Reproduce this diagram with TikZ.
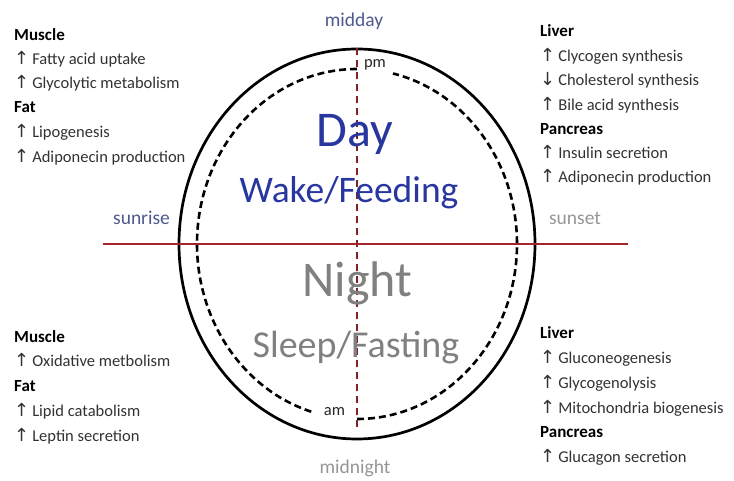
\documentclass[tikz,border=0pt]{standalone}
\usepackage{fontspec}
\setmainfont{Carlito}
\newfontfamily\arrowfont{DejaVu Sans}
\definecolor{dayblue}{RGB}{40,55,160}
\definecolor{skyblue}{RGB}{78,88,140}
\definecolor{nightgray}{RGB}{128,128,128}
\definecolor{lightgray2}{RGB}{150,150,150}
\definecolor{horizonred}{RGB}{165,35,42}
\definecolor{axisred}{RGB}{125,35,35}
\definecolor{bodytext}{RGB}{50,50,50}
\newcommand\uparr{{\arrowfont\fontsize{18}{18}\selectfont ↑}\hspace{3pt}}
\newcommand\dnarr{{\arrowfont\fontsize{18}{18}\selectfont ↓}\hspace{3pt}}
\tikzset{
  body/.style={anchor=base west, inner sep=0pt, font=\fontsize{16.5}{20}\selectfont, text=bodytext},
  head/.style={anchor=base west, inner sep=0pt, font=\fontsize{17}{20}\selectfont\bfseries, text=black},
  big/.style={anchor=base, inner sep=0pt},
  tick/.style={anchor=base, inner sep=0pt, font=\fontsize{19.5}{22}\selectfont},
  outerring/.style={line width=2.7pt, black},
  innerring/.style={line width=2.6pt, black, dash pattern=on 7pt off 4pt},
  axis/.style={line width=1.6pt, axisred, dash pattern=on 7pt off 5pt},
  horizon/.style={line width=2.7pt, horizonred}
}
\begin{document}
\begin{tikzpicture}[x=1pt,y=1pt]
\useasboundingbox (0,0) rectangle (734,481);
\coordinate (c) at (357,237);
\coordinate (hl) at (103,237);
\coordinate (hr) at (628,237);
\coordinate (vt) at (357,433);
\coordinate (vb) at (357,53);
% rings
\draw[outerring] (c) ellipse [x radius=178, y radius=195];
\draw[innerring] (c) ++(90:160 and 175) arc [start angle=90, end angle=253.7, x radius=160, y radius=175];
\draw[innerring] (c) ++(270:160 and 175) arc [start angle=270, end angle=437, x radius=160, y radius=175];
% axes
\draw[axis] (vt) -- (vb);
\draw[horizon] (hl) -- (hr);
% ring labels
\node[tick, text=black!85, font=\fontsize{16.5}{20}\selectfont] (pm) at (375,413) {pm};
\node[tick, text=black!85, font=\fontsize{16.5}{20}\selectfont] (am) at (334.5,65) {am};
\node[tick, text=skyblue] (midday) at (354,454) {midday};
\node[tick, text=lightgray2] (midnight) at (355,7) {midnight};
\node[tick, text=skyblue] (sunrise) at (141.5,256) {sunrise};
\node[tick, text=lightgray2] (sunset) at (575,256) {sunset};
% big labels
\node[big, text=dayblue, font=\fontsize{50}{56}\selectfont] (day) at (355,334) {Day};
\node[big, text=dayblue, font=\fontsize{37.5}{42}\selectfont] (wake) at (349,278) {Wake/Feeding};
\node[big, text=nightgray, font=\fontsize{50}{56}\selectfont] (night) at (357.5,184) {Night};
\node[big, text=nightgray, font=\fontsize{38}{42}\selectfont] (sleep) at (356,123) {Sleep/Fasting};
% top left
\node[head] (tl1) at (14,440) {Muscle};
\node[body] (tl2) at (14,416) {\uparr Fatty acid uptake};
\node[body] (tl3) at (14,392) {\uparr Glycolytic metabolism};
\node[head] (tl4) at (14,368) {Fat};
\node[body] (tl5) at (14,343) {\uparr Lipogenesis};
\node[body] (tl6) at (14,318) {\uparr Adiponecin production};
% top right
\node[head] (tr1) at (540,444) {Liver};
\node[body] (tr2) at (540,419) {\uparr Clycogen synthesis};
\node[body] (tr3) at (540,395) {\dnarr Cholesterol synthesis};
\node[body] (tr4) at (540,370) {\uparr Bile acid synthesis};
\node[head] (tr5) at (540,346) {Pancreas};
\node[body] (tr6) at (540,322) {\uparr Insulin secretion};
\node[body] (tr7) at (540,298) {\uparr Adiponecin production};
% bottom left
\node[head] (bl1) at (14,138) {Muscle};
\node[body] (bl2) at (14,114) {\uparr Oxidative metbolism};
\node[head] (bl3) at (14,89) {Fat};
\node[body] (bl4) at (14,64) {\uparr Lipid catabolism};
\node[body] (bl5) at (14,39) {\uparr Leptin secretion};
% bottom right
\node[head] (br1) at (540,142) {Liver};
\node[body] (br2) at (540,117) {\uparr Gluconeogenesis};
\node[body] (br3) at (540,92) {\uparr Glycogenolysis};
\node[body] (br4) at (540,67) {\uparr Mitochondria biogenesis};
\node[head] (br5) at (540,43) {Pancreas};
\node[body] (br6) at (540,18) {\uparr Glucagon secretion};
\end{tikzpicture}
\end{document}
